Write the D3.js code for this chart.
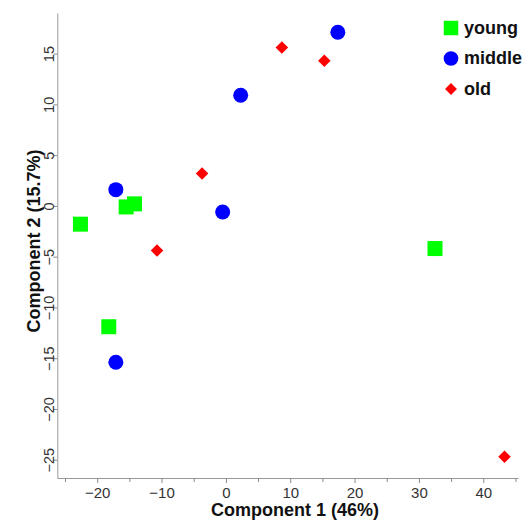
<!DOCTYPE html>
<html>
<head>
<meta charset="utf-8">
<script src="https://cdn.jsdelivr.net/npm/d3@7"></script>
<style>
  html, body { margin: 0; padding: 0; background: #fff; }
  svg { display: block; }
  text { font-family: "Liberation Sans", Arial, sans-serif; }
</style>
</head>
<body>
<svg id="chart" width="524" height="521"></svg>
<script>
// ---- data ----
const groups = ["young", "middle", "old"];
const youngX  = [-22.6, -15.5, -14.2, -18.2, 32.5];
const youngY  = [-1.8, -0.1, 0.2, -11.9, -4.2];
const middleX = [-17.1, -0.5, 2.3, 17.4, -17.1];
const middleY = [1.6, -0.6, 10.9, 17.1, -15.4];
const oldX    = [-10.7, -3.7, 8.7, 15.3, 43.3];
const oldY    = [-4.4, 3.2, 15.6, 14.3, -24.7];
const xTicks = [-20, -10, 0, 10, 20, 30, 40];
const xMinorTicks = [-25, -15, -5, 5, 15, 25, 35, 45];
const yTicks = [-25, -20, -15, -10, -5, 0, 5, 10, 15];
const xTitle = "Component 1 (46%)";
const yTitle = "Component 2 (15.7%)";

const colors = { young: "#00ff00", middle: "#0000ff", old: "#ff0000" };
const symbols = { young: d3.symbolSquare, middle: d3.symbolCircle, old: d3.symbolDiamond2 };
const symSize = { young: 225, middle: 177, old: 100 };

const series = [
  { name: "young",  xs: youngX,  ys: youngY },
  { name: "middle", xs: middleX, ys: middleY },
  { name: "old",    xs: oldX,    ys: oldY }
];

const svg = d3.select("#chart");
const x = d3.scaleLinear().domain([-26.2, 45.4]).range([57.3, 518]);
const y = d3.scaleLinear().domain([-26.8, 19.0]).range([478, 13]);

// x axis
const xAxis = svg.append("g").attr("transform", `translate(0,${y.range()[0]})`)
  .call(d3.axisBottom(x).tickValues(xTicks).tickSize(5).tickPadding(4).tickSizeOuter(0));
svg.append("g").attr("transform", `translate(0,${y.range()[0]})`)
  .call(d3.axisBottom(x).tickValues(xMinorTicks).tickSize(4).tickFormat("").tickSizeOuter(0))
  .call(g => g.select(".domain").remove());
xAxis.select(".domain").attr("stroke", "#9a9a9a");
xAxis.selectAll("text").attr("font-size", 15).attr("fill", "#333")
  .attr("font-family", "Liberation Sans, Arial, sans-serif");

// y axis
const yAxis = svg.append("g").attr("transform", `translate(${x.range()[0]},0)`)
  .call(d3.axisLeft(y).tickValues(yTicks).tickSize(4).tickSizeOuter(0));
yAxis.select(".domain").attr("stroke", "#9a9a9a");
yAxis.selectAll("text")
  .attr("font-size", 14.5).attr("fill", "#333")
  .attr("font-family", "Liberation Sans, Arial, sans-serif")
  .attr("x", null).attr("dy", null)
  .attr("text-anchor", "middle")
  .attr("transform", "translate(-3.5,0) rotate(-90)");
svg.selectAll(".tick line").attr("stroke", "#8a8a8a");

// axis titles
svg.append("text").attr("x", 295).attr("y", 516)
  .attr("text-anchor", "middle").attr("font-size", 18).attr("font-weight", "bold")
  .attr("fill", "#111").text(xTitle);
svg.append("text").attr("transform", "translate(40,241) rotate(-90)")
  .attr("text-anchor", "middle").attr("font-size", 18).attr("font-weight", "bold")
  .attr("fill", "#111").text(yTitle);

// points
series.forEach(s => {
  const pts = s.xs.map((v, i) => [v, s.ys[i]]);
  svg.append("g").selectAll("path").data(pts).join("path")
    .attr("transform", d => `translate(${x(d[0])},${y(d[1])})`)
    .attr("d", d3.symbol().type(symbols[s.name]).size(symSize[s.name]))
    .attr("fill", colors[s.name]);
});

// legend
const legend = svg.append("g").attr("transform", "translate(451,28)");
groups.forEach((gname, i) => {
  const row = legend.append("g").attr("transform", `translate(0,${i * 30.5})`);
  row.append("path")
    .attr("d", d3.symbol().type(symbols[gname]).size(gname === "old" ? 90 : (gname === "young" ? 210 : 170)))
    .attr("fill", colors[gname]);
  row.append("text").attr("x", 13).attr("y", 5.5)
    .attr("font-size", 18).attr("font-weight", "bold").attr("fill", "#111")
    .text(gname);
});
</script>
</body>
</html>
